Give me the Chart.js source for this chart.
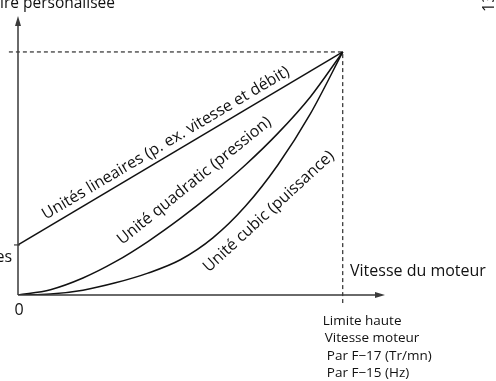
<!DOCTYPE html>
<html>
<head>
<meta charset="utf-8">
<script src="https://cdn.jsdelivr.net/npm/chart.js@4"></script>
<style>
  html, body { margin: 0; padding: 0; background: #fff; }
  #wrap { width: 496px; height: 381px; position: relative; }
</style>
</head>
<body>
<div id="wrap"><canvas id="loadCurves"></canvas></div>
<script>
/* ===================== DATA ===================== */

// motor speed, 0 = stopped, 1 = upper limit
const speedSteps  = [0, 0.1, 0.2, 0.3, 0.4, 0.5, 0.6, 0.7, 0.8, 0.9, 1];
const quadLoad    = [0, 0.022, 0.070, 0.137, 0.220, 0.315, 0.420, 0.535, 0.665, 0.815, 1];
const cubicLoad   = [0, 0.004, 0.020, 0.050, 0.090, 0.145, 0.235, 0.365, 0.535, 0.745, 1];

// straight line from the offset value up to the corner
const linearSpeed = [0, 1];
const linearLoad  = [0.206, 1];

// dashed guide to the upper limit corner
const guideSpeed  = [-0.028, 1, 1];
const guideLoad   = [1, 1, -0.033];

const curveNames = [
  "Unités lineaires (p. ex. vitesse et débit)",
  "Unité quadratic (pression)",
  "Unité cubic (puissance)"
];
const topTitle   = "ire personalisée";
const sideNote   = "13";
const offsetName = "es";
const originTick = "0";
const xAxisName  = "Vitesse du moteur";
const limitLines = ["Limite haute", "Vitesse moteur", "Par F\u221217 (Tr/mn)", "Par F\u221215 (Hz)"];

/* ===================== HELPERS ===================== */

const FONT = "'Open Sans', 'DejaVu Sans', sans-serif";
const INK = "#111";
const AXIS = "#3a3a3a";

function pts(xs, ys) {
  return xs.map((x, i) => ({ x: x, y: ys[i] }));
}

function arrowHead(ctx, tipX, tipY, dirX, dirY, len, half) {
  const bx = tipX - dirX * len, by = tipY - dirY * len;
  ctx.beginPath();
  ctx.moveTo(tipX, tipY);
  ctx.lineTo(bx - dirY * half, by + dirX * half);
  ctx.lineTo(bx + dirY * half, by - dirX * half);
  ctx.closePath();
  ctx.fill();
}

/* ===================== DECORATION PLUGIN ===================== */

const diagramDecor = {
  id: "diagramDecor",
  afterDatasetsDraw(chart) {
    const ctx = chart.ctx;
    const xs = chart.scales.x, ys = chart.scales.y;
    const ox = xs.getPixelForValue(0), oy = ys.getPixelForValue(0);
    const area = chart.chartArea;

    ctx.save();

    // axes with arrow heads
    ctx.strokeStyle = AXIS;
    ctx.fillStyle = AXIS;
    ctx.lineWidth = 1.5;
    ctx.beginPath();
    ctx.moveTo(ox, oy);
    ctx.lineTo(ox, area.top + 8);
    ctx.moveTo(ox, oy);
    ctx.lineTo(area.right - 8, oy);
    ctx.stroke();
    arrowHead(ctx, ox, area.top, 0, -1, 10, 3);
    arrowHead(ctx, area.right, oy, 1, 0, 10, 3);

    // tick where the straight line starts
    const ty = ys.getPixelForValue(linearLoad[0]);
    ctx.lineWidth = 1.2;
    ctx.beginPath();
    ctx.moveTo(ox - 4, ty);
    ctx.lineTo(ox + 2, ty);
    ctx.stroke();

    // plain texts
    ctx.fillStyle = INK;
    ctx.font = "15.5px " + FONT;
    ctx.textBaseline = "alphabetic";
    ctx.textAlign = "left";
    ctx.fillText(topTitle, 0, 8);
    ctx.font = "16px " + FONT;
    ctx.fillText(xAxisName, 350, 276);
    ctx.textAlign = "right";
    ctx.fillText(offsetName, 12, 262);
    ctx.textAlign = "center";
    ctx.fillText(originTick, ox + 1, 315);

    // upper limit note under the axis
    ctx.font = "13.5px " + FONT;
    ctx.textAlign = "left";
    const limX = xs.getPixelForValue(1);
    const indents = [-20, -18, -16, -16];
    limitLines.forEach((t, i) => {
      ctx.fillText(t, limX + indents[i], 325 + i * 17.4);
    });

    // page number on the right edge
    ctx.font = "16px " + FONT;
    ctx.save();
    ctx.translate(494, 12);
    ctx.rotate(-Math.PI / 2);
    ctx.textAlign = "left";
    ctx.textBaseline = "alphabetic";
    ctx.fillText(sideNote, 0, 0);
    ctx.restore();

    // labels along the curves
    const lx0 = xs.getPixelForValue(linearSpeed[0]), ly0 = ys.getPixelForValue(linearLoad[0]);
    const lx1 = xs.getPixelForValue(linearSpeed[1]), ly1 = ys.getPixelForValue(linearLoad[1]);
    const lineAngle = Math.atan2(ly1 - ly0, lx1 - lx0);
    const placements = [
      { at: [0.455, 0.625], angle: lineAngle },
      { at: [0.543, 0.470], angle: -39 * Math.PI / 180 },
      { at: [0.772, 0.343], angle: -42.5 * Math.PI / 180 }
    ];
    ctx.textAlign = "center";
    ctx.textBaseline = "middle";
    placements.forEach((p, i) => {
      ctx.save();
      ctx.translate(xs.getPixelForValue(p.at[0]), ys.getPixelForValue(p.at[1]));
      ctx.rotate(p.angle);
      ctx.fillText(curveNames[i], 0, 0);
      ctx.restore();
    });

    ctx.restore();
  }
};

/* ===================== CHART ===================== */

const lineStyle = {
  borderColor: INK,
  borderWidth: 1.5,
  pointRadius: 0,
  fill: false,
  cubicInterpolationMode: "monotone"
};

new Chart(document.getElementById("loadCurves"), {
  type: "line",
  data: {
    datasets: [
      {
        label: "guide",
        data: pts(guideSpeed, guideLoad),
        borderColor: "#000",
        borderWidth: 1,
        borderDash: [4, 3],
        pointRadius: 0,
        tension: 0,
        clip: false
      },
      Object.assign({ label: curveNames[0], data: pts(linearSpeed, linearLoad) }, lineStyle),
      Object.assign({ label: curveNames[1], data: pts(speedSteps, quadLoad) }, lineStyle),
      Object.assign({ label: curveNames[2], data: pts(speedSteps, cubicLoad) }, lineStyle)
    ]
  },
  options: {
    responsive: true,
    maintainAspectRatio: false,
    animation: false,
    layout: { padding: { left: 18, right: 111, top: 16, bottom: 86 } },
    scales: {
      x: { type: "linear", min: 0, max: 1.13, display: false },
      y: { type: "linear", min: 0, max: 1.148, display: false }
    },
    plugins: {
      legend: { display: false },
      tooltip: { enabled: false }
    }
  },
  plugins: [diagramDecor]
});
</script>
</body>
</html>
